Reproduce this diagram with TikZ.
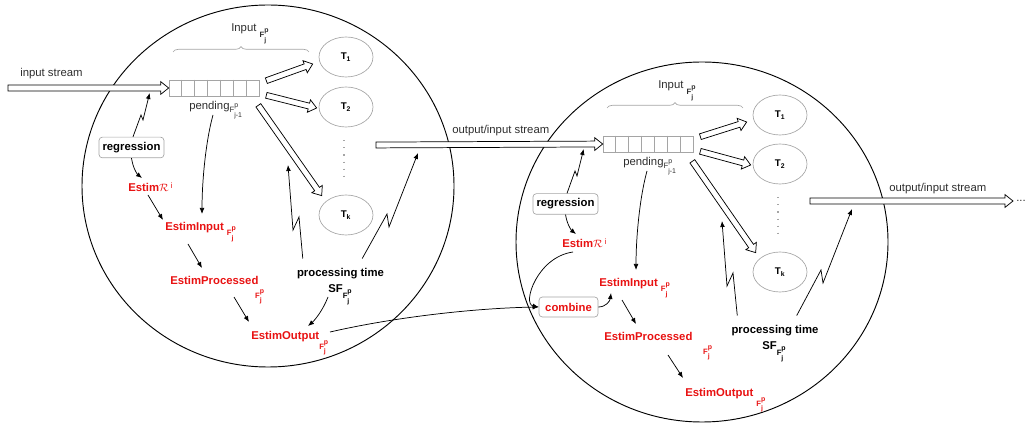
\documentclass[tikz,border=0pt]{standalone}
\usepackage{fontspec}
\setmainfont{Liberation Sans}
\usetikzlibrary{calc,shapes.geometric,decorations.pathreplacing,arrows.meta}
\definecolor{ered}{RGB}{232,18,18}
\definecolor{lgray}{RGB}{165,165,165}
\definecolor{dtext}{RGB}{45,45,45}
% F^p_j subscript: [weight]{drop}{sup}{sub}
\newcommand\Fpj[4][\bfseries]{%
  \raisebox{-#2}{\fontsize{5.8}{6}\selectfont#1F\rlap{\raisebox{3.9pt}{\fontsize{5.2}{5}\selectfont#1#3}}\raisebox{-3.5pt}{\fontsize{5.2}{5}\selectfont#1#4}}}
% hollow block arrow from #1 to #2 (coordinate names), #3 helper name
\newcommand\hollowarrow[3]{%
  \coordinate (#3h) at ($(#2)!6pt!(#1)$);
  \draw[hollow] ($(#1)!2.2pt!90:(#2)$) -- ($(#3h)!2.2pt!-90:(#1)$) -- ($(#3h)!4.8pt!-90:(#1)$)
     -- (#2) -- ($(#3h)!4.8pt!90:(#1)$) -- ($(#3h)!2.2pt!90:(#1)$) -- ($(#1)!2.2pt!-90:(#2)$) -- cycle;
}
\begin{document}
\begin{tikzpicture}[x=0.75pt,y=-0.75pt,
  every node/.style={inner sep=0pt, font=\fontsize{8.5}{10}\selectfont},
  big/.style={draw, line width=0.7pt},
  hollow/.style={draw, line width=0.55pt, fill=white, line join=miter},
  queue/.style={draw=lgray, line width=0.5pt, minimum width=67.5pt, minimum height=12pt},
  cell/.style={lgray, line width=0.5pt},
  gbrace/.style={lgray, line width=0.5pt, decorate, decoration={brace, amplitude=4pt}},
  gdots/.style={lgray, line width=0.8pt, dash pattern=on 0.8pt off 4.5pt},
  tnode/.style={draw=lgray, ellipse, minimum width=40.5pt, minimum height=30pt, line width=0.5pt, font=\fontsize{7.3}{8}\selectfont\bfseries},
  boxn/.style={draw=lgray, rounded corners=2.5pt, line width=0.5pt, minimum height=15.5pt, font=\fontsize{8.5}{10}\selectfont\bfseries},
  lbl/.style={text=dtext},
  redl/.style={text=ered, font=\fontsize{8.5}{10}\selectfont\bfseries},
  bold/.style={font=\fontsize{8.5}{10}\selectfont\bfseries},
  arr/.style={-{Latex[length=4.5pt,width=3.6pt]}, line width=0.55pt},
  zig/.style={arr, line join=miter}
]
\useasboundingbox (0,0) rectangle (1027,423);

% the two processing units
\draw[big] (268,186) ellipse [x radius=186, y radius=181];
\draw[big] (702,242) ellipse [x radius=186, y radius=180];

% ================= unit 1 nodes
\node[queue] (q1) at (214,88) {};
\foreach \k in {1,...,6}
  \draw[cell] ($(q1.north west)!\k/7!(q1.north east)$) -- ($(q1.south west)!\k/7!(q1.south east)$);
\draw[gbrace] (173,52) -- (309,52);
\node[lbl, anchor=base west] (inp1) at (231,32) {Input \Fpj{4.1pt}{p}{j}};
\node[lbl, anchor=base west] (pend1) at (189,110) {pending\Fpj[\mdseries]{1.9pt}{p}{j-1}};
\node[tnode] (T1a) at (346,57) {T\textsubscript{1}};
\node[tnode] (T2a) at (346,107) {T\textsubscript{2}};
\node[tnode] (Tka) at (346,215) {T\textsubscript{k}};
\draw[gdots] ($(T2a.south)+(-2,13)$) -- ($(Tka.north)+(-2,-13)$);
\node[lbl, anchor=base west] (ins) at (20,77) {input stream};
\node[boxn, minimum width=48.75pt] (reg1) at (131.5,147.5) {regression};
\node[redl, anchor=base west] (er1) at (128,192) {Estim$\mathcal{R}$\,\textsuperscript{\mdseries i}};
\node[redl, anchor=base west] (ei1) at (165,231) {EstimInput \Fpj{3.4pt}{p}{j}};
\node[redl, anchor=base west] (ep1) at (170,285) {EstimProcessed\hspace{-2.5pt}\Fpj{10pt}{p}{j}};
\node[redl, anchor=base west] (eo1) at (251,340) {EstimOutput\Fpj{7pt}{p}{j}};
\node[bold, anchor=base] (pt1) at (340.5,277) {processing time};
\node[bold, anchor=base west] (sf1) at (328,293) {SF\Fpj{4.1pt}{p}{j}};
\node[lbl, anchor=base west] (ois1) at (452,134) {output/input stream};

% ================= unit 2 nodes
\node[queue] (q2) at (648,144) {};
\foreach \k in {1,...,6}
  \draw[cell] ($(q2.north west)!\k/7!(q2.north east)$) -- ($(q2.south west)!\k/7!(q2.south east)$);
\draw[gbrace] (607,108) -- (743,108);
\node[lbl, anchor=base west] (inp2) at (658,89) {Input \Fpj{4.1pt}{p}{j}};
\node[lbl, anchor=base west] (pend2) at (623,166) {pending\Fpj[\mdseries]{1.9pt}{p}{j-1}};
\node[tnode] (T1b) at (780,115) {T\textsubscript{1}};
\node[tnode] (T2b) at (780,164) {T\textsubscript{2}};
\node[tnode] (Tkb) at (780,272) {T\textsubscript{k}};
\draw[gdots] ($(T2b.south)+(-2,13)$) -- ($(Tkb.north)+(-2,-13)$);
\node[boxn, minimum width=48.75pt] (reg2) at (565.5,204) {regression};
\node[redl, anchor=base west] (er2) at (562,248) {Estim$\mathcal{R}$\,\textsuperscript{\mdseries i}};
\node[boxn, text=ered, minimum width=44.25pt, minimum height=15pt] (comb) at (568.5,307) {combine};
\node[redl, anchor=base west] (ei2) at (599,287) {EstimInput \Fpj{3.4pt}{p}{j}};
\node[redl, anchor=base west] (ep2) at (604,341) {EstimProcessed\hspace{8pt}\Fpj{10pt}{p}{j}};
\node[redl, anchor=base west] (eo2) at (685,397) {EstimOutput \Fpj{7pt}{p}{j}};
\node[bold, anchor=base] (pt2) at (775,334) {processing time};
\node[bold, anchor=base west] (sf2) at (762,350) {SF\Fpj{4.1pt}{p}{j}};
\node[lbl, anchor=base west] (ois2) at (889,192) {output/input stream};
\node[lbl, anchor=west] (more) at (1016,201) {...};

% ================= hollow stream / dispatch arrows
\coordinate (in0) at (8,88);
\hollowarrow{in0}{q1.west}{hA}
\coordinate (qa1) at ($(q1.north east)+(7,1)$);
\coordinate (ta1) at ($(T1a.west)+(-6,7)$);
\hollowarrow{qa1}{ta1}{hB}
\coordinate (qb1) at ($(q1.south east)+(7,-1)$);
\coordinate (tb1) at ($(T2a.west)+(-2,1)$);
\hollowarrow{qb1}{tb1}{hC}
\coordinate (qc1) at ($(q1.south east)+(-1,9)$);
\coordinate (tc1) at ($(Tka.north west)+(-5,-5)$);
\hollowarrow{qc1}{tc1}{hD}
\coordinate (os1) at (376,145);
\hollowarrow{os1}{q2.west}{hE}
\coordinate (qa2) at ($(q2.north east)+(7,1)$);
\coordinate (ta2) at ($(T1b.west)+(-6,7)$);
\hollowarrow{qa2}{ta2}{hF}
\coordinate (qb2) at ($(q2.south east)+(7,-1)$);
\coordinate (tb2) at ($(T2b.west)+(-2,1)$);
\hollowarrow{qb2}{tb2}{hG}
\coordinate (qc2) at ($(q2.south east)+(-1,9)$);
\coordinate (tc2) at ($(Tkb.north west)+(-5,-5)$);
\hollowarrow{qc2}{tc2}{hH}
\coordinate (os2) at (810,201);
\coordinate (oe2) at (1013,201);
\hollowarrow{os2}{oe2}{hI}

% ================= unit 1 connectors
\coordinate (zr1) at ($(q1.west)+(-19,5)$);
\draw[zig] ($(reg1.north)+(1.5,0)$) -- (141,115) -- (143,120) -- (zr1);
\draw[arr] (reg1.south) .. controls (133,168) and (137,174) .. ($(er1.base west)+(14,-14)$);
\draw[arr] ($(er1.base west)+(20,3)$) -- ($(ei1.base west)+(-2,-11)$);
\draw[arr] ($(pend1.base west)+(24,5)$) .. controls (206,140) and (202,180) .. ($(ei1.base west)+(37,-17)$);
\draw[arr] ($(ei1.base west)+(23,13)$) -- ($(ep1.base west)+(32,-17)$);
\draw[arr] ($(ep1.base west)+(64,12)$) -- ($(eo1.base west)+(-2,-18)$);
\draw[arr] ($(sf1.base west)+(0,4)$) .. controls (323,310) and (315,320) .. ($(eo1.base west)+(57,-14)$);
\coordinate (zl1) at (288,165);
\draw[zig] ($(pt1.north west)+(6,-10)$) -- (299,217) -- (293,230) -- (zl1);
\coordinate (zq1) at ($(os1)+(42,8)$);
\draw[zig] ($(pt1.north east)+(-22,-10)$) -- (387,214) -- (389,227) -- (zq1);
\draw[arr] ($(eo1.base west)+(79,-8)$) .. controls (400,316) and (480,308) .. (comb.west);

% ================= unit 2 connectors
\coordinate (zr2) at ($(q2.west)+(-19,5)$);
\draw[zig] ($(reg2.north)+(1.5,0)$) -- (575,171) -- (577,176) -- (zr2);
\draw[arr] (reg2.south) .. controls (567,224) and (571,230) .. ($(er2.base west)+(14,-14)$);
\draw[arr] ($(er2.base west)+(11,4)$) .. controls (537,257) and (522,304) .. (comb.west);
\draw[arr] (comb.east) .. controls (606,307) and (610,301) .. ($(ei2.base west)+(12,6)$);
\draw[arr] ($(pend2.base west)+(24,5)$) .. controls (640,196) and (636,236) .. ($(ei2.base west)+(37,-17)$);
\draw[arr] ($(ei2.base west)+(23,13)$) -- ($(ep2.base west)+(32,-17)$);
\draw[arr] ($(ep2.base west)+(64,14)$) -- ($(eo2.base west)+(-2,-19)$);
\coordinate (zl2) at (722,221);
\draw[zig] ($(pt2.north west)+(6,-10)$) -- (733,273) -- (727,286) -- (zl2);
\coordinate (zq2) at ($(os2)+(42,8)$);
\draw[zig] ($(pt2.north east)+(-22,-10)$) -- (821,270) -- (823,283) -- (zq2);
\end{tikzpicture}
\end{document}
